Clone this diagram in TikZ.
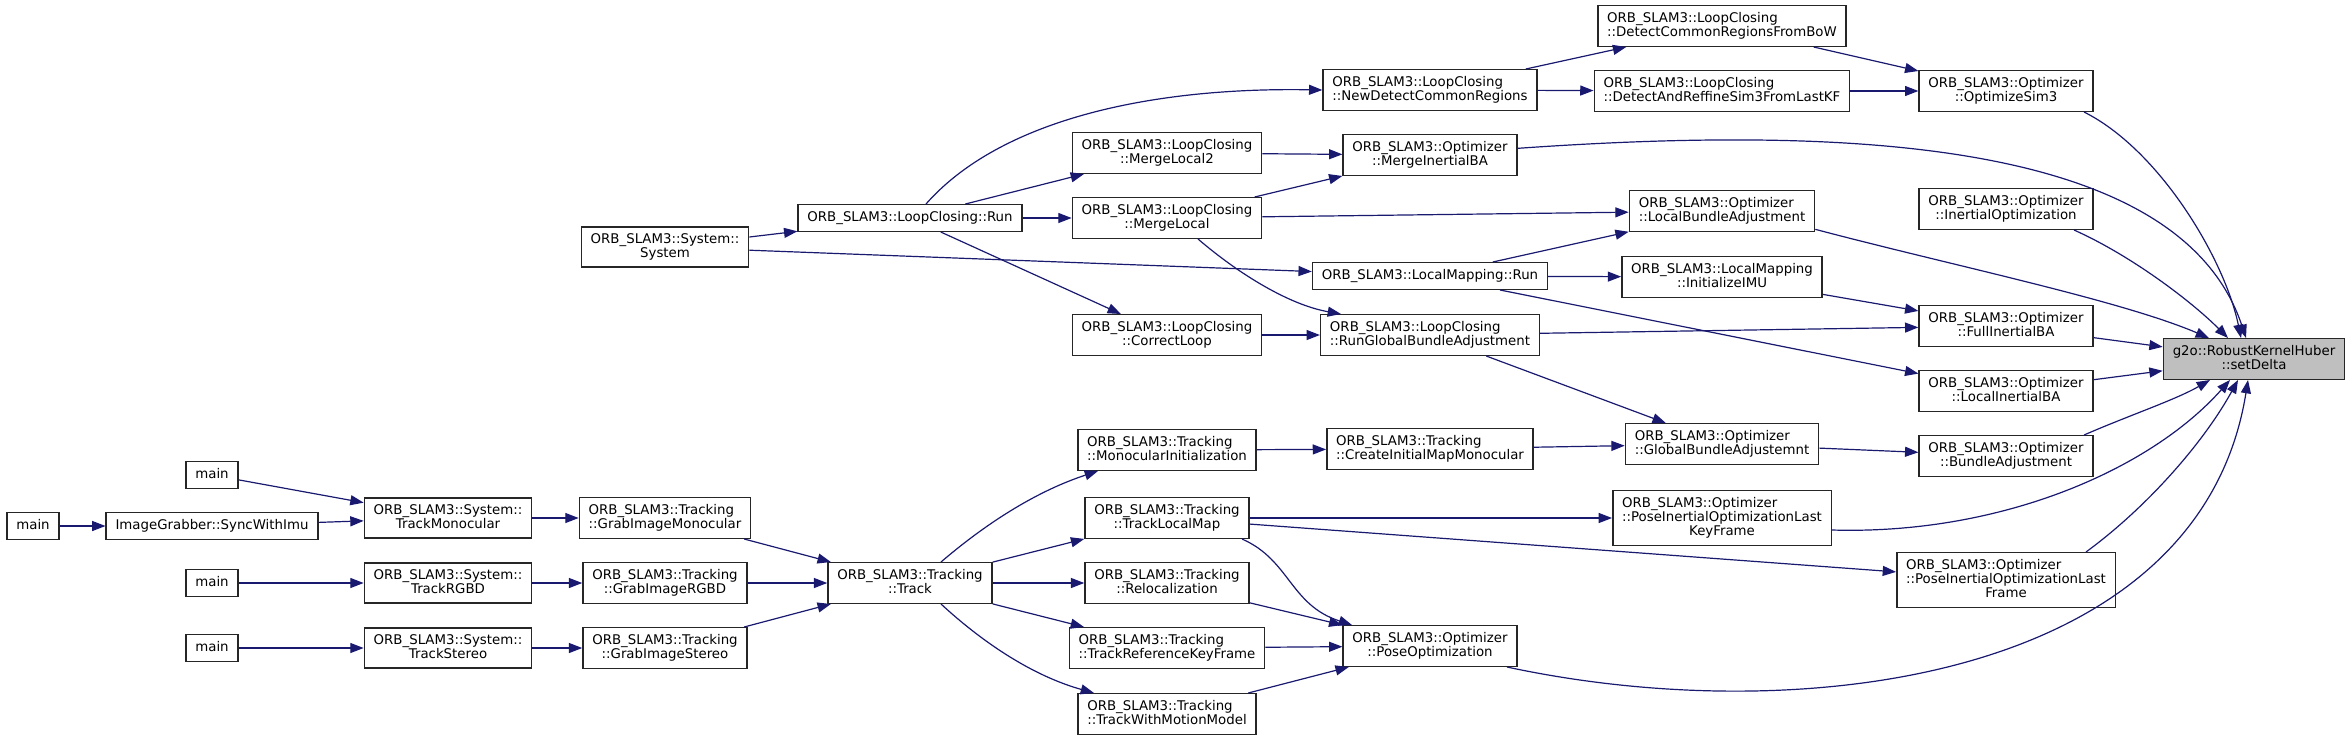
\documentclass[tikz,border=0pt]{standalone}
\usepackage{fontspec}
\newfontfamily\dejavu{DejaVu Sans}
\usepackage{tikz}
\usetikzlibrary{arrows.meta}
\definecolor{edgeblue}{HTML}{191970}

\begin{document}
\begin{tikzpicture}[
				x=0.75pt, y=-0.75pt,
				>={Triangle[length=10pt, width=7.5pt]},
				fn/.style={rectangle, draw=black!85, line width=1.1pt, fill=white, font=\dejavu\fontsize{10}{10.5}\selectfont, inner xsep=7pt, inner ysep=4.9pt, minimum height=19.5pt, text depth=2.5pt, align=center},
				fnl/.style={fn, align=left},
				root/.style={fn, fill=gray!50},
				arr/.style={->, draw=edgeblue, line width=0.9pt}
			]

			\useasboundingbox (0, 0) rectangle (2348, 740);

			% Entry points
			\node[fn] (main_b) at (33, 526) {main};
			\node[fn] (main_a) at (212, 475) {main};
			\node[fn] (sync) at (212, 526) {ImageGrabber::SyncWithImu};
			\node[fn] (main_c) at (212, 583) {main};
			\node[fn] (main_d) at (212, 648) {main};
			\node[fn] (sys_mono) at (448, 518) {ORB\_SLAM3::System::\\TrackMonocular};
			\node[fn] (sys_rgbd) at (448, 583) {ORB\_SLAM3::System::\\TrackRGBD};
			\node[fn] (sys_stereo) at (448, 648) {ORB\_SLAM3::System::\\TrackStereo};
			\node[fn] (sys_sys) at (665, 247) {ORB\_SLAM3::System::\\System};
			\draw[arr] (main_b) -- (sync);
			\draw[arr] (main_a) -- (sys_mono);
			\draw[arr] (sync) -- (sys_mono);
			\draw[arr] (main_c) -- (sys_rgbd);
			\draw[arr] (main_d) -- (sys_stereo);

			% Tracking
			\node[fnl] (trk_gmono) at (665, 518) {ORB\_SLAM3::Tracking\\::GrabImageMonocular};
			\node[fn] (trk_grgbd) at (665, 583) {ORB\_SLAM3::Tracking\\::GrabImageRGBD};
			\node[fn] (trk_gstereo) at (665, 648) {ORB\_SLAM3::Tracking\\::GrabImageStereo};
			\node[fn] (trk_track) at (910, 583) {ORB\_SLAM3::Tracking\\::Track};
			\node[fnl] (trk_monoinit) at (1167, 450) {ORB\_SLAM3::Tracking\\::MonocularInitialization};
			\node[fn] (trk_localmap) at (1167, 518) {ORB\_SLAM3::Tracking\\::TrackLocalMap};
			\node[fn] (trk_reloc) at (1167, 583) {ORB\_SLAM3::Tracking\\::Relocalization};
			\node[fnl] (trk_refkf) at (1167, 648) {ORB\_SLAM3::Tracking\\::TrackReferenceKeyFrame};
			\node[fnl] (trk_motion) at (1167, 714) {ORB\_SLAM3::Tracking\\::TrackWithMotionModel};
			\node[fnl] (trk_initmap) at (1430, 449) {ORB\_SLAM3::Tracking\\::CreateInitialMapMonocular};
			\draw[arr] (sys_mono) -- (trk_gmono);
			\draw[arr] (sys_rgbd) -- (trk_grgbd);
			\draw[arr] (sys_stereo) -- (trk_gstereo);
			\draw[arr] (trk_gmono) -- (trk_track);
			\draw[arr] (trk_grgbd) -- (trk_track);
			\draw[arr] (trk_gstereo) -- (trk_track);
			\draw[arr] (941, 0 |- trk_track.north) .. controls (990, 520) and (1040, 490) .. (1098, 0 |- trk_monoinit.south);
			\draw[arr] (trk_track) -- (trk_localmap);
			\draw[arr] (trk_track) -- (trk_reloc);
			\draw[arr] (trk_track) -- (trk_refkf);
			\draw[arr] (941, 0 |- trk_track.south) .. controls (980, 640) and (1030, 675) .. (1094, 0 |- trk_motion.north);
			\draw[arr] (trk_monoinit) -- (trk_initmap);

			% Loop closing and local mapping
			\node[fn] (lc_run) at (910, 218) {ORB\_SLAM3::LoopClosing::Run};
			\node[fn] (lc_merge2) at (1167, 153) {ORB\_SLAM3::LoopClosing\\::MergeLocal2};
			\node[fn] (lc_merge) at (1167, 218) {ORB\_SLAM3::LoopClosing\\::MergeLocal};
			\node[fn] (lc_correct) at (1167, 335) {ORB\_SLAM3::LoopClosing\\::CorrectLoop};
			\node[fnl] (lc_newdetect) at (1430, 90) {ORB\_SLAM3::LoopClosing\\::NewDetectCommonRegions};
			\node[fnl] (lc_rungba) at (1430, 335) {ORB\_SLAM3::LoopClosing\\::RunGlobalBundleAdjustment};
			\node[fnl] (lc_bow) at (1722, 26) {ORB\_SLAM3::LoopClosing\\::DetectCommonRegionsFromBoW};
			\node[fnl] (lc_refine) at (1722, 91) {ORB\_SLAM3::LoopClosing\\::DetectAndReffineSim3FromLastKF};
			\node[fn] (lm_run) at (1430, 276) {ORB\_SLAM3::LocalMapping::Run};
			\node[fn] (lm_initimu) at (1722, 277) {ORB\_SLAM3::LocalMapping\\::InitializeIMU};
			\draw[arr] (sys_sys) -- (lc_run);
			\draw[arr] (sys_sys) -- (lm_run);
			\draw[arr] (926, 0 |- lc_run.north) .. controls (1000, 120) and (1150, 87) .. (lc_newdetect.west);
			\draw[arr] (lc_run) -- (lc_merge2);
			\draw[arr] (lc_run) -- (lc_merge);
			\draw[arr] (lc_run) -- (lc_correct);
			\draw[arr] (1198, 0 |- lc_merge.south) .. controls (1240, 275) and (1290, 305) .. (1341, 0 |- lc_rungba.north);
			\draw[arr] (lc_correct) -- (lc_rungba);
			\draw[arr] (lc_newdetect) -- (lc_bow);
			\draw[arr] (lc_newdetect) -- (lc_refine);
			\draw[arr] (lm_run) -- (lm_initimu);

			% Optimizer
			\node[fn] (opt_mergeiba) at (1430, 155) {ORB\_SLAM3::Optimizer\\::MergeInertialBA};
			\node[fn] (opt_pose) at (1430, 646) {ORB\_SLAM3::Optimizer\\::PoseOptimization};
			\node[fnl] (opt_lba) at (1722, 211) {ORB\_SLAM3::Optimizer\\::LocalBundleAdjustment};
			\node[fnl] (opt_gba) at (1722, 444) {ORB\_SLAM3::Optimizer\\::GlobalBundleAdjustemnt};
			\node[fnl] (opt_lastkf) at (1722, 518) {ORB\_SLAM3::Optimizer\\::PoseInertialOptimizationLast\\\hspace*{\fill}KeyFrame\hspace*{\fill}};
			\node[fn] (opt_sim3) at (2006, 91) {ORB\_SLAM3::Optimizer\\::OptimizeSim3};
			\node[fn] (opt_inertial) at (2006, 209) {ORB\_SLAM3::Optimizer\\::InertialOptimization};
			\node[fn] (opt_fullba) at (2006, 326) {ORB\_SLAM3::Optimizer\\::FullInertialBA};
			\node[fn] (opt_localiba) at (2006, 391) {ORB\_SLAM3::Optimizer\\::LocalInertialBA};
			\node[fn] (opt_ba) at (2006, 456) {ORB\_SLAM3::Optimizer\\::BundleAdjustment};
			\node[fnl] (opt_lastframe) at (2006, 580) {ORB\_SLAM3::Optimizer\\::PoseInertialOptimizationLast\\\hspace*{\fill}Frame\hspace*{\fill}};
			\node[root] (huber) at (2254, 359) {g2o::RobustKernelHuber\\::setDelta};
			\draw[arr] (lc_merge2) -- (opt_mergeiba);
			\draw[arr] (lc_merge) -- (opt_mergeiba);
			\draw[arr] (lc_merge) -- (opt_lba);
			\draw[arr] (lm_run) -- (opt_lba);
			\draw[arr] (lm_run) -- (opt_localiba);
			\draw[arr] (lm_initimu) -- (opt_fullba);
			\draw[arr] (lc_rungba) -- (opt_fullba);
			\draw[arr] (lc_rungba) -- (opt_gba);
			\draw[arr] (lc_bow) -- (opt_sim3);
			\draw[arr] (lc_refine) -- (opt_sim3);
			\draw[arr] (trk_initmap) -- (opt_gba);
			\draw[arr] (opt_gba) -- (opt_ba);
			\draw[arr] (trk_localmap) -- (opt_lastkf);
			\draw[arr] (trk_localmap) -- (opt_lastframe);
			\draw[arr] (1242, 0 |- trk_localmap.south) .. controls (1290, 560) and (1290, 605) .. (1352, 0 |- opt_pose.north);
			\draw[arr] (trk_reloc) -- (opt_pose);
			\draw[arr] (trk_refkf) -- (opt_pose);
			\draw[arr] (trk_motion) -- (opt_pose);

			% Callers of setDelta
			\draw[arr] ([yshift=5pt]opt_mergeiba.east) .. controls (1850, 125) and (2180, 140) .. (2246, 0 |- huber.north);
			\draw[arr] (2084, 0 |- opt_sim3.south) .. controls (2160, 150) and (2225, 260) .. (2241, 0 |- huber.north);
			\draw[arr] ([yshift=2pt]opt_lba.south east) .. controls (1950, 265) and (2120, 300) .. (2209, 0 |- huber.north);
			\draw[arr] (2074, 0 |- opt_inertial.south) .. controls (2130, 255) and (2190, 300) .. (2228, 0 |- huber.north);
			\draw[arr] (opt_fullba) -- (huber);
			\draw[arr] (opt_localiba) -- (huber);
			\draw[arr] (2084, 0 |- opt_ba.north) .. controls (2130, 415) and (2175, 400) .. (2210, 0 |- huber.south);
			\draw[arr] ([yshift=-9pt]opt_lastkf.east) .. controls (2000, 535) and (2150, 470) .. (2230, 0 |- huber.south);
			\draw[arr] (2086, 0 |- opt_lastframe.north) .. controls (2150, 505) and (2205, 440) .. (2238, 0 |- huber.south);
			\draw[arr] (1507, 0 |- opt_pose.south) .. controls (1800, 730) and (2200, 680) .. (2248, 0 |- huber.south);

		\end{tikzpicture}
\end{document}
